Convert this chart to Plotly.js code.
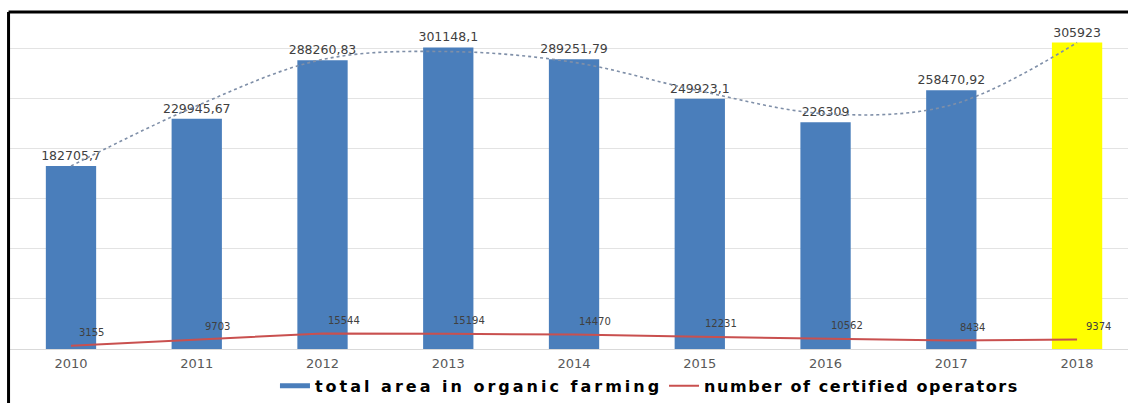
<!DOCTYPE html>
<html>
<head>
<meta charset="utf-8">
<script src="https://cdn.plot.ly/plotly-3.0.1.min.js"></script>
<style>
html,body{margin:0;padding:0;background:#fff;}
#chart{width:1128px;height:403px;}
</style>
</head>
<body>
<div id="chart"></div>
<script>
const years = ['2010','2011','2012','2013','2014','2015','2016','2017','2018'];
const areaValues = [182705.7, 229945.67, 288260.83, 301148.1, 289251.79, 249923.1, 226309, 258470.92, 305923];
const areaLabels = ['182705,7','229945,67','288260,83','301148,1','289251,79','249923,1','226309','258470,92','305923'];
const operators = [3155, 9703, 15544, 15194, 14470, 12231, 10562, 8434, 9374];
const operatorLabels = ['3155','9703','15544','15194','14470','12231','10562','8434','9374'];
// dotted trend curve
const trendValues = [182706, 242800, 289100, 297000, 286200, 257600, 234900, 243700, 306000];
const barColors = ['#4a7ebb','#4a7ebb','#4a7ebb','#4a7ebb','#4a7ebb','#4a7ebb','#4a7ebb','#4a7ebb','#ffff00'];
const yTicks = [0, 50000, 100000, 150000, 200000, 250000, 300000];

const traces = [
  {
    type: 'bar', x: years, y: areaValues, name: 'total area in organic farming',
    marker: {color: barColors}, text: areaLabels, textposition: 'outside',
    constraintext: 'none',
    textfont: {family: 'DejaVu Sans', size: 12.5, color: '#404040'},
    cliponaxis: false, showlegend: false, hoverinfo: 'x+y'
  },
  {
    type: 'scatter', mode: 'lines', x: years, y: trendValues,
    line: {color: '#7f8fa8', width: 1.6, dash: 'dot', shape: 'spline', smoothing: 1},
    showlegend: false, hoverinfo: 'skip'
  },
  {
    type: 'scatter', mode: 'lines', x: years, y: operators, name: 'number of certified operators',
    line: {color: '#c9504f', width: 2}, showlegend: false
  },
  {
    type: 'scatter', mode: 'lines', x: [null], y: [null], name: 'total area in organic farming',
    line: {color: '#4a7ebb', width: 5}, showlegend: true, hoverinfo: 'skip', legend: 'legend'
  },
  {
    type: 'scatter', mode: 'lines', x: [null], y: [null], name: 'number of certified operators',
    line: {color: '#c9504f', width: 2}, showlegend: true, hoverinfo: 'skip', legend: 'legend2'
  }
];

const annotations = operators.map((v, i) => ({
  x: i, y: v, text: operatorLabels[i], showarrow: false,
  xref: 'x', yref: 'y', xanchor: 'center', yanchor: 'middle', xshift: 21, yshift: 13,
  font: {family: 'DejaVu Sans', size: 10, color: '#404040'}
}));

const legendFont = {family: 'DejaVu Sans', size: 16, color: '#000000', weight: 'bold'};

const layout = {
  width: 1128, height: 403,
  margin: {l: 10, r: 0, t: 14, b: 50},
  paper_bgcolor: '#ffffff', plot_bgcolor: '#ffffff',
  font: {family: 'DejaVu Sans', color: '#404040'},
  bargap: 0.6,
  xaxis: {
    type: 'category', range: [-0.485, 8.405], showgrid: false, zeroline: false,
    showline: false, ticks: '', ticklabelstandoff: 5,
    tickfont: {family: 'DejaVu Sans', size: 13, color: '#595959'},
    automargin: false
  },
  yaxis: {
    range: [0, 334500], tickvals: yTicks, showticklabels: false, showgrid: true,
    gridcolor: '#e3e3e3', gridwidth: 1, zeroline: true, zerolinecolor: '#d9d9d9', zerolinewidth: 1,
    automargin: false
  },
  showlegend: true,
  legend: {
    orientation: 'h', x: 0.237, xanchor: 'left', y: -0.11, yanchor: 'middle',
    font: legendFont, bgcolor: 'rgba(0,0,0,0)', itemwidth: 30
  },
  legend2: {
    orientation: 'h', x: 0.585, xanchor: 'left', y: -0.11, yanchor: 'middle',
    font: legendFont, bgcolor: 'rgba(0,0,0,0)', itemwidth: 30
  },
  annotations: annotations,
  shapes: [
    {type: 'line', xref: 'paper', yref: 'paper', x0: -0.0013, x1: 1.01, y0: 1.0059, y1: 1.0059,
     line: {color: '#000000', width: 3}},
    {type: 'line', xref: 'paper', yref: 'paper', x0: -0.0013, x1: -0.0013, y0: 1.0059, y1: -0.2,
     line: {color: '#000000', width: 3}}
  ]
};

Plotly.newPlot('chart', traces, layout, {displayModeBar: false, staticPlot: true}).then(gd => {
  const spacing = {legend: '3px', legend2: '1.6px'};
  Object.keys(spacing).forEach(cls => {
    gd.querySelectorAll('g.' + cls + ' text').forEach(t => {
      t.style.letterSpacing = spacing[cls];
      t.setAttribute('letter-spacing', spacing[cls]);
    });
  });
  gd.querySelectorAll('g[class*="legend"] clipPath rect, defs clipPath[id*="legend"] rect').forEach(r => {
    r.setAttribute('width', '600');
  });
});
</script>
</body>
</html>
